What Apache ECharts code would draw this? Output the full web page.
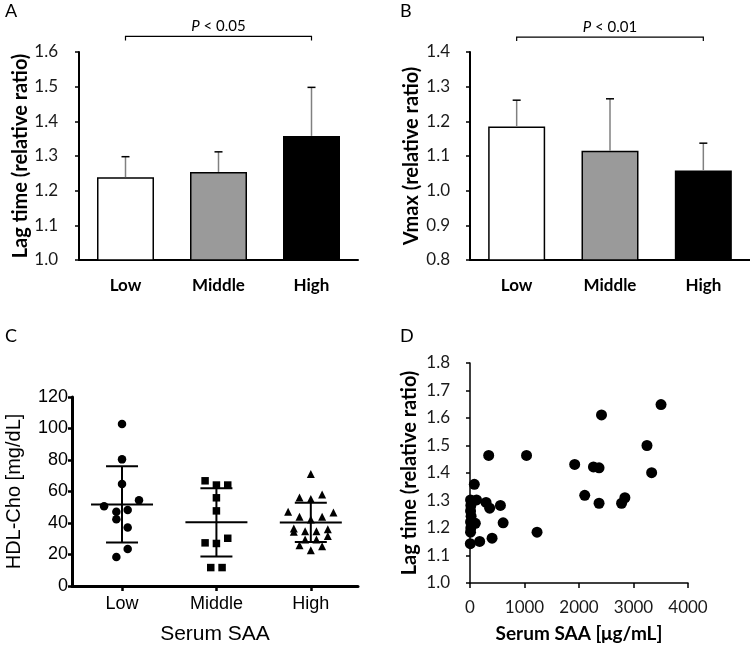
<!DOCTYPE html>
<html><head><meta charset="utf-8">
<script src="https://cdn.jsdelivr.net/npm/echarts@6/dist/echarts.min.js"></script>
<style>html,body{margin:0;padding:0;background:#fff}#c{width:750px;height:647px}</style>
</head><body><div id="c"></div>
<script>
// ---- Data ----
const groups = ['Low', 'Middle', 'High'];
// Panel A: lag time
const lagMean = [1.239, 1.254, 1.358];
const lagErr = [0.059, 0.058, 0.140];
// Panel B: Vmax
const vmaxMean = [1.185, 1.115, 1.058];
const vmaxErr = [0.076, 0.150, 0.079];
const barColors = ['#ffffff', '#9a9a9a', '#000000'];
// significance brackets: [fromIndex, toIndex, level, text]
const sigA = [0, 2, 1.645, '< 0.05'];
const sigB = [0, 2, 1.443, '< 0.01'];
const yTicksA = [1.0, 1.6, 0.1];
const yTicksB = [0.8, 1.4, 0.1];
// Panel C: HDL-Cho by group (value, jitter in category units)
const hdlLow = [102.9, 80.4, 64.7, 50.7, 54.5, 47.1, 48.2, 42.4, 37.1, 23.5, 18.4];
const hdlLowJitter = [0, 0, 0, -0.19, 0.18, -0.06, 0.06, -0.06, 0.06, 0.06, -0.06];
const hdlMiddle = [66.8, 64.1, 64.1, 56.0, 47.7, 27.4, 30.3, 27.0, 11.7, 11.7];
const hdlMiddleJitter = [-0.12, 0, 0.12, 0, 0, -0.12, 0.12, 0, -0.06, 0.06];
const hdlHigh = [71.1, 56.2, 58.1, 55.2, 47.1, 46.7, 43.9, 43.9, 42.2, 36.5, 34.4, 34.8, 34.8, 36.1, 31.8, 29.5, 29.5, 25.9, 25.3, 22.7];
const hdlHighJitter = [0, -0.12, 0.12, 0, -0.24, 0.24, -0.12, 0.12, 0, -0.18, -0.18, -0.06, 0.06, 0.18, 0.18, -0.06, 0.06, -0.12, 0.12, 0];
const hdlMean = [51.8, 40.5, 40.3];
const hdlUpper = [76.1, 62.0, 52.8];
const hdlLower = [27.6, 18.7, 28.0];
// Panel D: Serum SAA vs lag time
const saa = [3505, 2413, 3247, 3333, 343, 1037, 1921, 2265, 2368, 2105, 2368, 2781, 2842, 1230, 608, 558, 405, 79, 10, 120, 295, 361, 15, 10, 20, 98, 10, 15, 10, 177, 6];
const lagD = [1.649, 1.611, 1.500, 1.401, 1.464, 1.464, 1.431, 1.422, 1.419, 1.319, 1.290, 1.290, 1.310, 1.185, 1.219, 1.282, 1.163, 1.359, 1.302, 1.302, 1.293, 1.272, 1.282, 1.262, 1.243, 1.217, 1.222, 1.200, 1.185, 1.151, 1.143];

// ---- Styles ----
const CAL = 'Lato, "Open Sans", sans-serif';
const ARI = '"Liberation Sans", Arial, sans-serif';
const chart = echarts.init(document.getElementById('c'), null, {renderer: 'canvas'});

function barYAxis(gi, ticks, name, margin) {
  return {
    type: 'value', gridIndex: gi, min: ticks[0], max: ticks[1], interval: ticks[2],
    axisLine: {show: true, lineStyle: {color: '#000', width: 2}},
    axisTick: {show: true, length: 4, lineStyle: {color: '#000', width: 1.5}},
    splitLine: {show: false},
    axisLabel: {color: '#1a1a1a', fontFamily: CAL, fontSize: 17, margin: margin, formatter: v => v.toFixed(1)},
    name: name, nameLocation: 'middle', nameGap: 48,
    nameTextStyle: {fontFamily: CAL, fontWeight: 'bold', fontSize: 20, color: '#000'}
  };
}
function barXAxis(gi) {
  return {
    type: 'category', gridIndex: gi, data: groups,
    axisLine: {show: true, lineStyle: {color: '#000', width: 2}},
    axisTick: {show: false},
    axisLabel: {color: '#000', fontFamily: CAL, fontWeight: 'bold', fontSize: 17, margin: 17}
  };
}
function barSeries(idx, means) {
  return {
    type: 'bar', xAxisIndex: idx, yAxisIndex: idx, barWidth: 57,
    data: means.map((m, i) => ({value: m, itemStyle: {color: barColors[i], borderColor: '#000', borderWidth: 1.5}})),
    silent: true, z: 2
  };
}
function errSeries(idx, means, errs) {
  return {
    type: 'custom', xAxisIndex: idx, yAxisIndex: idx, z: 3, clip: false, silent: true,
    data: means.map((m, i) => [i, m, m + errs[i]]),
    renderItem: (params, api) => {
      const a = api.coord([api.value(0), api.value(1)]);
      const b = api.coord([api.value(0), api.value(2)]);
      return {type: 'group', children: [
        {type: 'line', shape: {x1: a[0], y1: a[1], x2: b[0], y2: b[1]}, style: {stroke: '#808080', lineWidth: 1.5}},
        {type: 'line', shape: {x1: b[0] - 4, y1: b[1], x2: b[0] + 4, y2: b[1]}, style: {stroke: '#000', lineWidth: 1.5}}
      ]};
    }
  };
}
function sigSeries(idx, sig) {
  return {
    type: 'custom', xAxisIndex: idx, yAxisIndex: idx, z: 3, clip: false, silent: true,
    data: [[sig[0], sig[1], sig[2]]],
    renderItem: (params, api) => {
      const a = api.coord([api.value(0), api.value(2)]);
      const b = api.coord([api.value(1), api.value(2)]);
      return {type: 'group', children: [
        {type: 'polyline', shape: {points: [[a[0], a[1] + 4], [a[0], a[1]], [b[0], a[1]], [b[0], a[1] + 4]]}, style: {stroke: '#000', lineWidth: 1.2, fill: null}},
        {type: 'text', x: (a[0] + b[0]) / 2, y: a[1] - 10, style: {
          text: '{p|P} ' + sig[3], align: 'center', verticalAlign: 'middle',
          fontFamily: CAL, fontSize: 15, fill: '#000',
          rich: {p: {fontStyle: 'italic', fontFamily: CAL, fontSize: 15}}
        }}
      ]};
    }
  };
}
function hdlData(vals, jit, gi) {
  return vals.map((v, i) => [gi + 1 + jit[i], v]);
}

const option = {
  animation: false,
  backgroundColor: '#fff',
  graphic: [
    {type: 'text', left: 5, top: 2, style: {text: 'A', fontFamily: CAL, fontSize: 18, fill: '#000'}},
    {type: 'text', left: 400, top: 2, style: {text: 'B', fontFamily: CAL, fontSize: 18, fill: '#000'}},
    {type: 'text', left: 5, top: 327, style: {text: 'C', fontFamily: CAL, fontSize: 18, fill: '#000'}},
    {type: 'text', left: 400, top: 327, style: {text: 'D', fontFamily: CAL, fontSize: 18, fill: '#000'}}
  ],
  grid: [
    {left: 79, top: 52, width: 279, height: 208},
    {left: 470, top: 52, width: 280, height: 208},
    {left: 72, top: 397, width: 286, height: 189},
    {left: 470, top: 363, width: 218, height: 220}
  ],
  xAxis: [
    barXAxis(0), barXAxis(1),
    {
      type: 'value', gridIndex: 2, min: 0.47, max: 3.5,
      axisLine: {show: true, lineStyle: {color: '#000', width: 3}},
      axisTick: {show: true, length: 5, lineStyle: {color: '#000', width: 2.5}, customValues: [1, 2, 3]},
      axisLabel: {color: '#000', fontFamily: ARI, fontSize: 18, margin: 9, customValues: [1, 2, 3], formatter: v => groups[Math.round(v) - 1] || ''},
      splitLine: {show: false},
      name: 'Serum SAA', nameLocation: 'middle', nameGap: 38,
      nameTextStyle: {fontFamily: ARI, fontSize: 21, color: '#000'}
    },
    {
      type: 'value', gridIndex: 3, min: 0, max: 4000, interval: 1000,
      axisLine: {show: true, lineStyle: {color: '#000', width: 1.5}},
      axisTick: {show: true, length: 5, lineStyle: {color: '#000', width: 1.5}},
      axisLabel: {color: '#1a1a1a', fontFamily: CAL, fontSize: 17, margin: 16, formatter: v => String(v)},
      splitLine: {show: false},
      name: 'Serum SAA [μg/mL]', nameLocation: 'middle', nameGap: 41,
      nameTextStyle: {fontFamily: CAL, fontWeight: 'bold', fontSize: 19, color: '#000'}
    }
  ],
  yAxis: [
    barYAxis(0, yTicksA, 'Lag time (relative ratio)', 21),
    barYAxis(1, yTicksB, 'Vmax (relative ratio)', 20),
    {
      type: 'value', gridIndex: 2, min: 0, max: 120, interval: 20,
      axisLine: {show: true, lineStyle: {color: '#000', width: 3}},
      axisTick: {show: true, length: 4, lineStyle: {color: '#000', width: 2.5}},
      axisLabel: {color: '#000', fontFamily: ARI, fontSize: 18, margin: 4},
      splitLine: {show: false},
      name: 'HDL-Cho [mg/dL]', nameLocation: 'middle', nameGap: 48,
      nameTextStyle: {fontFamily: ARI, fontSize: 20, color: '#000'}
    },
    {
      type: 'value', gridIndex: 3, min: 1.0, max: 1.8, interval: 0.1,
      axisLine: {show: true, lineStyle: {color: '#000', width: 1.5}},
      axisTick: {show: true, length: 4, lineStyle: {color: '#000', width: 1.5}},
      axisLabel: {color: '#1a1a1a', fontFamily: CAL, fontSize: 17, margin: 20, formatter: v => v.toFixed(1)},
      splitLine: {show: false},
      name: 'Lag time (relative ratio)', nameLocation: 'middle', nameGap: 50,
      nameTextStyle: {fontFamily: CAL, fontWeight: 'bold', fontSize: 20, color: '#000'}
    }
  ],
  series: [
    barSeries(0, lagMean), errSeries(0, lagMean, lagErr), sigSeries(0, sigA),
    barSeries(1, vmaxMean), errSeries(1, vmaxMean, vmaxErr), sigSeries(1, sigB),
    {
      type: 'custom', xAxisIndex: 2, yAxisIndex: 2, z: 2, silent: true, clip: false,
      data: hdlMean.map((m, i) => [i + 1, m, hdlUpper[i], hdlLower[i]]),
      renderItem: (params, api) => {
        const c = api.coord([api.value(0), api.value(1)]);
        const u = api.coord([api.value(0), api.value(2)]);
        const l = api.coord([api.value(0), api.value(3)]);
        const st = {stroke: '#000', lineWidth: 2};
        return {type: 'group', children: [
          {type: 'line', shape: {x1: c[0] - 31, y1: c[1], x2: c[0] + 31, y2: c[1]}, style: st},
          {type: 'line', shape: {x1: u[0], y1: u[1], x2: l[0], y2: l[1]}, style: st},
          {type: 'line', shape: {x1: u[0] - 16, y1: u[1], x2: u[0] + 16, y2: u[1]}, style: st},
          {type: 'line', shape: {x1: l[0] - 16, y1: l[1], x2: l[0] + 16, y2: l[1]}, style: st}
        ]};
      }
    },
    {type: 'scatter', xAxisIndex: 2, yAxisIndex: 2, z: 3, symbol: 'circle', symbolSize: 8.5, itemStyle: {color: '#000', opacity: 1}, data: hdlData(hdlLow, hdlLowJitter, 0)},
    {type: 'scatter', xAxisIndex: 2, yAxisIndex: 2, z: 3, symbol: 'rect', symbolSize: 7.5, itemStyle: {color: '#000', opacity: 1}, data: hdlData(hdlMiddle, hdlMiddleJitter, 1)},
    {type: 'scatter', xAxisIndex: 2, yAxisIndex: 2, z: 3, symbol: 'triangle', symbolSize: 8, itemStyle: {color: '#000', opacity: 1}, data: hdlData(hdlHigh, hdlHighJitter, 2)},
    {type: 'scatter', xAxisIndex: 3, yAxisIndex: 3, symbol: 'circle', symbolSize: 11, itemStyle: {color: '#000', opacity: 1}, clip: false,
      data: saa.map((s, i) => [s, lagD[i]])}
  ]
};
chart.setOption(option);
</script>
</body></html>
